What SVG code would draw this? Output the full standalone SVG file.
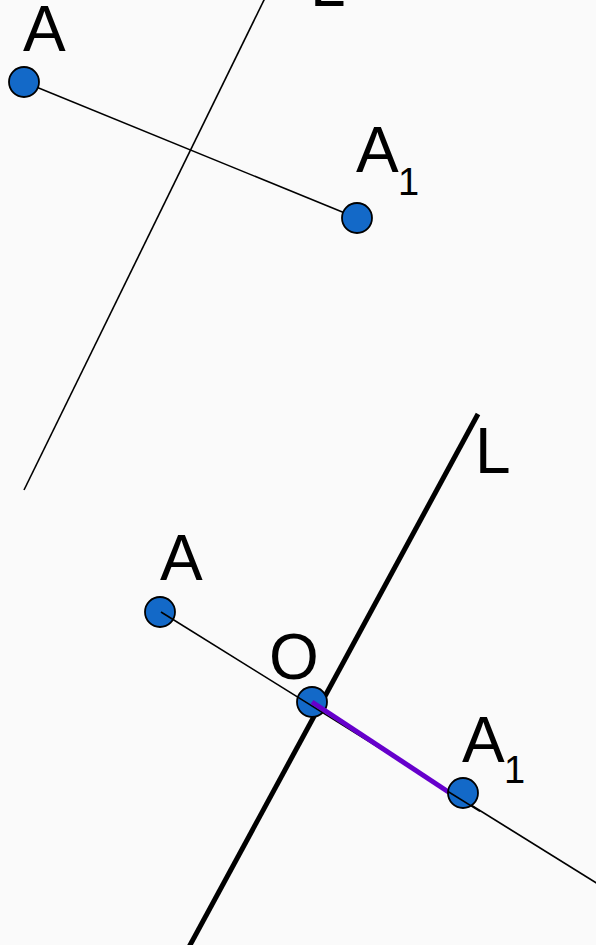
<svg xmlns="http://www.w3.org/2000/svg" width="596" height="945" viewBox="0 0 596 945">
  <style>
    .lbl { font-family: "Liberation Sans", Arial, sans-serif; font-size: 64px; fill: #000; }
    .sub { font-family: "Liberation Sans", Arial, sans-serif; font-size: 38px; fill: #000; }
    .pt { fill: #1369c8; stroke: #000; stroke-width: 1.8; }
    .thin { stroke: #000; stroke-width: 1.6; fill: none; }
    .thick { stroke: #000; stroke-width: 5; fill: none; }
    .seg { stroke: #6600cc; stroke-width: 5; fill: none; }
  </style>
  <rect width="596" height="945" fill="#fafafa"/>

  <!-- top figure -->
  <g id="connectors-top">
    <line class="thin" x1="265" y1="-2" x2="24" y2="490"/>
    <line class="thin" x1="24" y1="82" x2="357" y2="218"/>
  </g>
  <g id="top-L"><text class="lbl" x="310" y="6">L</text></g>
  <g id="top-A">
    <circle class="pt" cx="24" cy="82" r="15"/>
    <text class="lbl" x="23" y="51">A</text>
  </g>
  <g id="top-A1">
    <circle class="pt" cx="357" cy="218" r="15"/>
    <text class="lbl" x="356" y="172">A</text>
    <text class="sub" x="398" y="195">1</text>
  </g>

  <!-- bottom figure -->
  <g id="connectors-bottom">
    <line class="thick" x1="478" y1="414" x2="189" y2="947"/>
  </g>
  <g id="bottom-L"><text class="lbl" x="475" y="473">L</text></g>
  <g id="bottom-A">
    <circle class="pt" cx="160" cy="612" r="15"/>
    <text class="lbl" x="160" y="580">A</text>
  </g>
  <g id="bottom-O">
    <circle class="pt" cx="312" cy="702" r="15"/>
    <text class="lbl" x="269" y="679">O</text>
  </g>
  <g id="connectors-bottom-2">
    <line class="thin" x1="161" y1="612" x2="598" y2="884"/>
    <line class="seg" x1="312" y1="702" x2="450" y2="793"/>
  </g>
  <g id="bottom-A1">
    <circle class="pt" cx="463" cy="793" r="15"/>
    <line class="thin" x1="448" y1="791.5" x2="480" y2="811.4"/>
    <text class="lbl" x="462" y="762">A</text>
    <text class="sub" x="504" y="783">1</text>
  </g>
</svg>
